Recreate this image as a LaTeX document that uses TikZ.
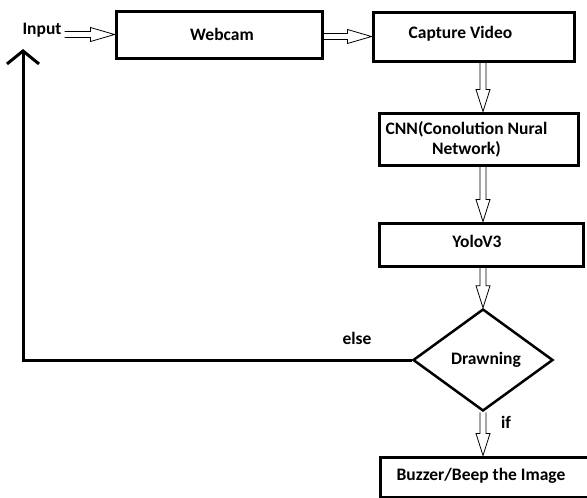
\documentclass[tikz,border=0pt]{standalone}
\usepackage{fontspec}
\setmainfont{Carlito}
\usetikzlibrary{shapes.geometric,arrows.meta,calc}
\begin{document}
\begin{tikzpicture}[x=1pt,y=-1pt,
  every node/.style={font=\fontsize{17.5}{20}\selectfont\bfseries},
  box/.style={draw, line width=3pt, inner sep=0pt},
  txt/.style={inner sep=0pt},
  varrow/.style={line width=0.8pt, line join=miter, to path={let \p1=(\tikztostart), \p2=(\tikztotarget) in
    (\x1-3pt,\y1) -- (\x1-3pt,\y2+22pt) -- (\x1-7pt,\y2+22pt) -- (\x1,\y2) -- (\x1+7pt,\y2+22pt) -- (\x1+3pt,\y2+22pt) -- (\x1+3pt,\y1)}},
  harrow/.style={line width=0.8pt, line join=miter, to path={let \p1=(\tikztostart), \p2=(\tikztotarget) in
    (\x1,\y2+3pt) -- (\x2-24pt,\y2+3pt) -- (\x2-24pt,\y2+7pt) -- (\x2,\y2) -- (\x2-24pt,\y2-7pt) -- (\x2-24pt,\y2-3pt) -- (\x1,\y2-3pt)}},
  back/.style={line width=3pt, -{Straight Barb[length=13pt, width=32pt]}}
]
\useasboundingbox (0,0) rectangle (587,498);
\clip (0,0) rectangle (587,498);

\node[txt, inner xsep=3pt] (in) at (42,30) {Input};
\node[box, minimum width=206, minimum height=47,
  label={[txt, xshift=3pt]center:Webcam}] (web) at (219,34.5) {};
\node[box, minimum width=201, minimum height=49,
  label={[txt, xshift=-13pt, yshift=3pt]center:Capture Video}] (cap) at (473.5,36.5) {};
\node[box, minimum width=199, minimum height=52,
  label={[txt, align=center, xshift=-12pt]center:CNN(Conolution Nural\\Network)}] (cnn) at (478.5,139) {};
\node[box, minimum width=204, minimum height=43,
  label={[txt, xshift=-4pt, yshift=3pt]center:YoloV3}] (yolo) at (481,244.5) {};
\node[draw, diamond, line width=2.5pt, inner sep=0pt, minimum width=140, minimum height=102] (dia) at (483,360) {};
\node[txt] at (486,360) {Drawning};
\node[box, minimum width=220, minimum height=40,
  label={[txt, xshift=-9pt, yshift=1pt]center:Buzzer/Beep the Image}] (buz) at (490,477) {};

\node[txt] (else) at (357,338) {else};
\node[txt] (if) at (506,422) {if};

\coordinate (ret) at (23,49);

\draw[harrow] (in.east |- web.west) to (web.west);
\draw[harrow] (web.east |- cap.west) to (cap.west);
\draw[varrow] (dia.north |- cap.south) to (dia.north |- cnn.north);
\draw[varrow] (dia.north |- cnn.south) to (dia.north |- yolo.north);
\draw[varrow] (dia.north |- yolo.south) to (dia.north);
\draw[varrow] (dia.south) to (dia.south |- buz.north);
\draw[back] (dia.west) -| (ret);
\end{tikzpicture}
\end{document}
